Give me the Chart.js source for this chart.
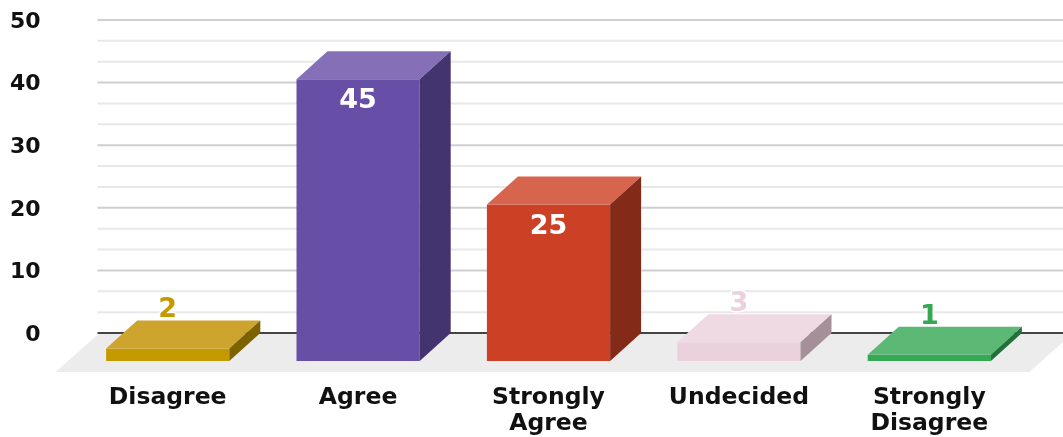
<!DOCTYPE html>
<html><head><meta charset="utf-8">
<style>html,body{margin:0;padding:0;background:#fff}#w{width:1063px;height:437px}</style>
<script src="https://cdn.jsdelivr.net/npm/chart.js@4"></script></head>
<body><div id="w"><canvas id="c"></canvas></div>
<script>
const categories=[["Disagree"],["Agree"],["Strongly","Agree"],["Undecided"],["Strongly","Disagree"]];
const values=[2,45,25,3,1];
const frontColors=["#c49a00","#674ea7","#cc4125","#ead1dc","#34a853"];
const topColors=["#cda52e","#8570b8","#d7654e","#efdae3","#5cb975"];
const sideColors=["#7d6200","#43336f","#832a18","#a58f99","#22703a"];
const labelColors=["#c49a00","#ffffff","#ffffff","#ead1dc","#34a853"];
const DX=31,DY=28,MINOR_PER_MAJOR=3;

const depth={id:'depth',
 beforeDatasetsDraw(ch){
  const {ctx,chartArea:a,scales:{y}}=ch;
  const base=y.getPixelForValue(0);
  const right=ch.width;
  ctx.save();
  ctx.lineWidth=2;
  y.ticks.forEach((t)=>{
    for(let k=0;k<MINOR_PER_MAJOR;k++){
      const v=t.value+k*10/MINOR_PER_MAJOR;
      if(v>50||v===0) continue;
      const py=y.getPixelForValue(v);
      ctx.strokeStyle=k===0?'#cfcfcf':'#e8e8e8';
      ctx.beginPath();ctx.moveTo(a.left+25,py);ctx.lineTo(right,py);ctx.stroke();}
  });
  ctx.fillStyle='#ececec';
  ctx.beginPath();ctx.moveTo(a.left+26,base+1);ctx.lineTo(right,base+1);ctx.lineTo(right,base+9);
  ctx.lineTo(a.right+5,base+39);ctx.lineTo(a.left-17,base+39);ctx.closePath();ctx.fill();
  ctx.strokeStyle='#444';ctx.lineWidth=2;
  ctx.beginPath();ctx.moveTo(a.left+25,base);ctx.lineTo(right,base);ctx.stroke();
  ctx.restore();
 },
 beforeDatasetDraw(ch){const c=ch.ctx;c.save();c.translate(0,DY);},
 afterDatasetDraw(ch,args){
  const c=ch.ctx;
  args.meta.data.forEach((b,i)=>{
    const l=b.x-b.width/2,r=b.x+b.width/2,t=b.y,bo=b.base;
    c.fillStyle=topColors[i];
    c.beginPath();c.moveTo(l,t);c.lineTo(l+DX,t-DY);c.lineTo(r+DX,t-DY);c.lineTo(r,t);c.closePath();c.fill();
    c.fillStyle=sideColors[i];
    c.beginPath();c.moveTo(r,t);c.lineTo(r+DX,t-DY);c.lineTo(r+DX,bo-DY);c.lineTo(r,bo);c.closePath();c.fill();
  });
  c.restore();
 },
 afterDatasetsDraw(ch){
  const c=ch.ctx,m=ch.getDatasetMeta(0);
  c.save();c.textAlign='center';c.textBaseline='middle';c.font='bold 27px "DejaVu Sans"';
  c.lineJoin='round';
  m.data.forEach((b,i)=>{
    const inside=values[i]>10;
    const py=inside?b.y+DY+22:b.y-10;
    if(!inside){c.strokeStyle='#ffffff';c.lineWidth=3;c.strokeText(values[i],b.x,py);}
    c.fillStyle=labelColors[i];
    c.fillText(values[i],b.x,py);
  });
  c.restore();
 }};

new Chart(document.getElementById('c'),{
 type:'bar',
 data:{labels:categories,datasets:[{data:values,backgroundColor:frontColors,borderWidth:0,categoryPercentage:1,barPercentage:0.647,clip:false}]},
 options:{responsive:true,maintainAspectRatio:false,animation:false,
  layout:{padding:{top:0,right:38.5,left:0,bottom:0}},
  plugins:{legend:{display:false},tooltip:{enabled:false}},
  scales:{
   x:{grid:{display:false},border:{display:false},
      ticks:{color:'#111',font:{family:'"DejaVu Sans"',weight:'bold',size:23.5,lineHeight:1.1},padding:44,maxRotation:0,autoSkip:false},
      afterFit(s){s.height=104;}},
   y:{min:0,max:50,grid:{display:false},border:{display:false},
      ticks:{stepSize:10,color:'#111',font:{family:'"DejaVu Sans"',weight:'bold',size:22},padding:24,labelOffset:2},
      afterFit(s){s.width=72.5;s.paddingTop=20;}}
  }},
 plugins:[depth]
});
</script></body></html>
